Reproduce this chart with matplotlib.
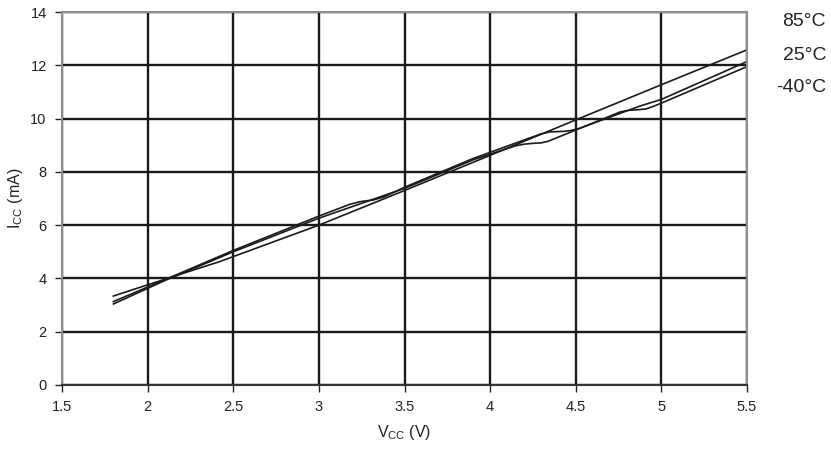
import matplotlib
matplotlib.use('Agg')
import matplotlib.pyplot as plt

plt.rcParams['font.family'] = ['Liberation Sans', 'DejaVu Sans']
plt.rcParams['mathtext.fontset'] = 'custom'
plt.rcParams['mathtext.rm'] = 'Liberation Sans'

# 85°C curve
v_85 = [1.8, 2.0, 2.42, 3.0, 3.5, 4.0, 4.5, 5.0, 5.5]
i_85 = [3.34, 3.76, 4.63, 6.0, 7.3, 8.62, 9.95, 11.27, 12.58]

# 25°C curve
v_25 = [1.8, 2.1, 2.5, 3.0, 3.18, 3.24, 3.32, 3.38, 3.5, 3.9, 4.2, 4.3, 4.35, 4.43, 4.47, 4.52,
        4.875, 5.0, 5.5]
i_25 = [3.13, 3.95, 5.05, 6.34, 6.78, 6.88, 6.95, 7.06, 7.42, 8.5, 9.2, 9.43, 9.5, 9.52, 9.55, 9.63,
        10.47, 10.72, 12.14]

# -40°C curve
v_m40 = [1.8, 2.1, 2.5, 3.0, 3.5, 3.9, 4.15, 4.2, 4.25, 4.3, 4.34, 4.5, 4.76, 4.81, 4.86, 4.91,
         4.95, 5.0, 5.5]
i_m40 = [3.04, 3.92, 5.0, 6.26, 7.38, 8.45, 8.98, 9.04, 9.07, 9.09, 9.15, 9.57, 10.25, 10.31, 10.33,
         10.36, 10.45, 10.58, 11.95]

x_ticks = [1.5, 2, 2.5, 3, 3.5, 4, 4.5, 5, 5.5]
x_labels = ['1.5', '2', '2.5', '3', '3.5', '4', '4.5', '5', '5.5']
y_ticks = [0, 2, 4, 6, 8, 10, 12, 14]
temps = ['85°C', '25°C', '-40°C']

fig = plt.figure(figsize=(8.31, 4.54), dpi=100)
ax = fig.add_axes([62/831, 69/454, 685/831, 373/454])

ax.set_xlim(1.5, 5.5)
ax.set_ylim(0, 14)
ax.set_xticks(x_ticks)
ax.set_xticklabels(x_labels)
ax.set_yticks(y_ticks)
ax.grid(True, color='#1a1a1a', linewidth=1.7)
ax.set_axisbelow(True)

for v, i in [(v_85, i_85), (v_25, i_25), (v_m40, i_m40)]:
    ax.plot(v, i, color='#1a1a1a', linewidth=1.2)

for side in ['top', 'right', 'left']:
    ax.spines[side].set_color('#8a8f96')
    ax.spines[side].set_linewidth(1.5)
ax.spines['bottom'].set_color('#333333')
ax.spines['bottom'].set_linewidth(1.5)

ax.tick_params(axis='both', direction='out', length=5, width=1, color='#222222',
               labelsize=10.5, labelcolor='#222222', pad=6)

ax.set_xlabel(r'V$_{\mathrm{CC}}$ (V)', fontsize=11.5, color='#222222', labelpad=6)
ax.set_ylabel(r'I$_{\mathrm{CC}}$ (mA)', fontsize=11.5, color='#222222', labelpad=4)

for k, t in enumerate(temps):
    fig.text(826/831, 1 - (22 + 33*k)/454, t, ha='right', va='center',
             fontsize=14, color='#222222')

fig.savefig('out.png', dpi=100)
